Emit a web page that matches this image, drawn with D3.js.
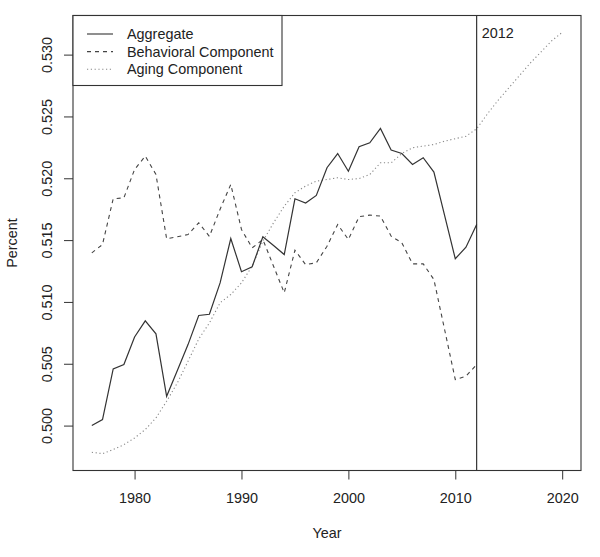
<!DOCTYPE html>
<html>
<head>
<meta charset="utf-8">
<script src="https://cdn.jsdelivr.net/npm/d3@7"></script>
<style>
  body { margin: 0; background: #fff; }
  text { font-family: "Liberation Sans", Arial, sans-serif; fill: #222; }
</style>
</head>
<body>
<svg id="chart" width="600" height="557"></svg>
<script>
const years = d3.range(1976, 2013);
const futureYears = d3.range(1976, 2021);

const aggregate = [
  0.50000, 0.50049, 0.50459, 0.50494, 0.50717, 0.50847, 0.50742, 0.50237, 0.50445, 0.50655,
  0.50890, 0.50900, 0.51154, 0.51513, 0.51244, 0.51284, 0.51527, 0.51456, 0.51383, 0.51834,
  0.51800, 0.51861, 0.52085, 0.52200, 0.52057, 0.52255, 0.52287, 0.52403, 0.52228, 0.52200,
  0.52111, 0.52166, 0.52050, 0.51700, 0.51349, 0.51443, 0.51626
];

const behavioral = [
  0.51397, 0.51464, 0.51834, 0.51842, 0.52071, 0.52179, 0.52031, 0.51510, 0.51527, 0.51545,
  0.51640, 0.51530, 0.51750, 0.51950, 0.51586, 0.51437, 0.51505, 0.51289, 0.51074, 0.51418,
  0.51302, 0.51316, 0.51450, 0.51626, 0.51505, 0.51689, 0.51702, 0.51694, 0.51532, 0.51478,
  0.51308, 0.51308, 0.51181, 0.50777, 0.50372, 0.50399, 0.50494
];

const aging = [
  0.49784, 0.49773, 0.49806, 0.49846, 0.49900, 0.49968, 0.50062, 0.50197, 0.50345, 0.50520,
  0.50700, 0.50830, 0.50993, 0.51060, 0.51154, 0.51290, 0.51491, 0.51640, 0.51774, 0.51883,
  0.51937, 0.51977, 0.51990, 0.52004, 0.51990, 0.51998, 0.52030, 0.52125, 0.52125, 0.52200,
  0.52247, 0.52260, 0.52273, 0.52300, 0.52320, 0.52340, 0.52400, 0.52520, 0.52630, 0.52730,
  0.52830, 0.52930, 0.53020, 0.53110, 0.53180
];

const xTicks = [1980, 1990, 2000, 2010, 2020];
const yTicks = [0.500, 0.505, 0.510, 0.515, 0.520, 0.525, 0.530];
const cutYear = 2012;
const legendLabels = ['Aggregate', 'Behavioral Component', 'Aging Component'];

const svg = d3.select('#chart');
const margin = { top: 15.5, right: 19, bottom: 86.5, left: 73 };
const width = 600, height = 557;

// R style 4% padding round the data range
const xMin = d3.min(futureYears), xMax = d3.max(futureYears);
const xPad = (xMax - xMin) * 0.04;
const allY = aggregate.concat(behavioral, aging);
const yMin = d3.min(allY), yMax = d3.max(allY);
const yPad = (yMax - yMin) * 0.04;

const x = d3.scaleLinear()
  .domain([xMin - xPad, xMax + xPad])
  .range([margin.left, width - margin.right]);

const y = d3.scaleLinear()
  .domain([yMin - yPad, yMax + yPad])
  .range([height - margin.bottom, margin.top]);

const tickLen = 9;
const fontSize = '14.4px';

// x axis
const xAxis = svg.append('g')
  .attr('transform', `translate(0, ${height - margin.bottom})`)
  .call(d3.axisBottom(x).tickValues(xTicks).tickFormat(d3.format('d')).tickSize(tickLen).tickPadding(13));
xAxis.select('.domain').remove();
xAxis.selectAll('line').attr('stroke', '#333');
xAxis.selectAll('text').style('font-size', fontSize).attr('fill', '#222');

// y axis, labels turned like R's default
const yAxis = svg.append('g')
  .attr('transform', `translate(${margin.left}, 0)`)
  .call(d3.axisLeft(y).tickValues(yTicks).tickFormat(d3.format('.3f')).tickSize(tickLen));
yAxis.select('.domain').remove();
yAxis.selectAll('line').attr('stroke', '#333');
yAxis.selectAll('text')
  .style('font-size', fontSize)
  .attr('fill', '#222')
  .attr('x', null).attr('dy', null)
  .attr('text-anchor', 'middle')
  .attr('transform', 'translate(-26, 0) rotate(-90)')
  .attr('dominant-baseline', 'central');

// axis titles
svg.append('text')
  .attr('x', (margin.left + width - margin.right) / 2)
  .attr('y', 538)
  .attr('text-anchor', 'middle')
  .style('font-size', fontSize)
  .text('Year');

svg.append('text')
  .attr('transform', `translate(17, ${(margin.top + height - margin.bottom) / 2}) rotate(-90)`)
  .attr('text-anchor', 'middle')
  .style('font-size', fontSize)
  .text('Percent');

// lines
const lineAgg = d3.line().x((d, i) => x(years[i])).y(d => y(d));
const lineAging = d3.line().x((d, i) => x(futureYears[i])).y(d => y(d));

svg.append('path')
  .datum(aging)
  .attr('fill', 'none')
  .attr('stroke', '#888')
  .attr('stroke-width', 1.1)
  .attr('stroke-dasharray', '1.2,2.6')
  .attr('d', lineAging);

svg.append('path')
  .datum(behavioral)
  .attr('fill', 'none')
  .attr('stroke', '#444')
  .attr('stroke-width', 1.1)
  .attr('stroke-dasharray', '4,4')
  .attr('d', lineAgg);

svg.append('path')
  .datum(aggregate)
  .attr('fill', 'none')
  .attr('stroke', '#333')
  .attr('stroke-width', 1.2)
  .attr('d', lineAgg);

// 2012 cut line
svg.append('line')
  .attr('x1', x(cutYear)).attr('x2', x(cutYear))
  .attr('y1', margin.top).attr('y2', height - margin.bottom)
  .attr('stroke', '#222')
  .attr('stroke-width', 1.1);

svg.append('text')
  .attr('x', x(cutYear) + 5)
  .attr('y', 38)
  .style('font-size', fontSize)
  .text(cutYear);

// plot box
svg.append('rect')
  .attr('x', margin.left).attr('y', margin.top)
  .attr('width', width - margin.right - margin.left)
  .attr('height', height - margin.bottom - margin.top)
  .attr('fill', 'none')
  .attr('stroke', '#333')
  .attr('stroke-width', 1.1);

// legend
const legend = svg.append('g');
legend.append('rect')
  .attr('x', margin.left).attr('y', margin.top)
  .attr('width', 209).attr('height', 70)
  .attr('fill', '#fff')
  .attr('stroke', '#333')
  .attr('stroke-width', 1.1);

const legendDash = [null, '4,4', '1.2,2.6'];
const legendColor = ['#333', '#444', '#888'];
legendLabels.forEach((label, i) => {
  const ly = 34 + i * 17.6;
  legend.append('line')
    .attr('x1', 87).attr('x2', 113)
    .attr('y1', ly).attr('y2', ly)
    .attr('stroke', legendColor[i])
    .attr('stroke-width', 1.1)
    .attr('stroke-dasharray', legendDash[i]);
  legend.append('text')
    .attr('x', 127).attr('y', ly)
    .attr('dominant-baseline', 'central')
    .style('font-size', fontSize)
    .text(label);
});
</script>
</body>
</html>
